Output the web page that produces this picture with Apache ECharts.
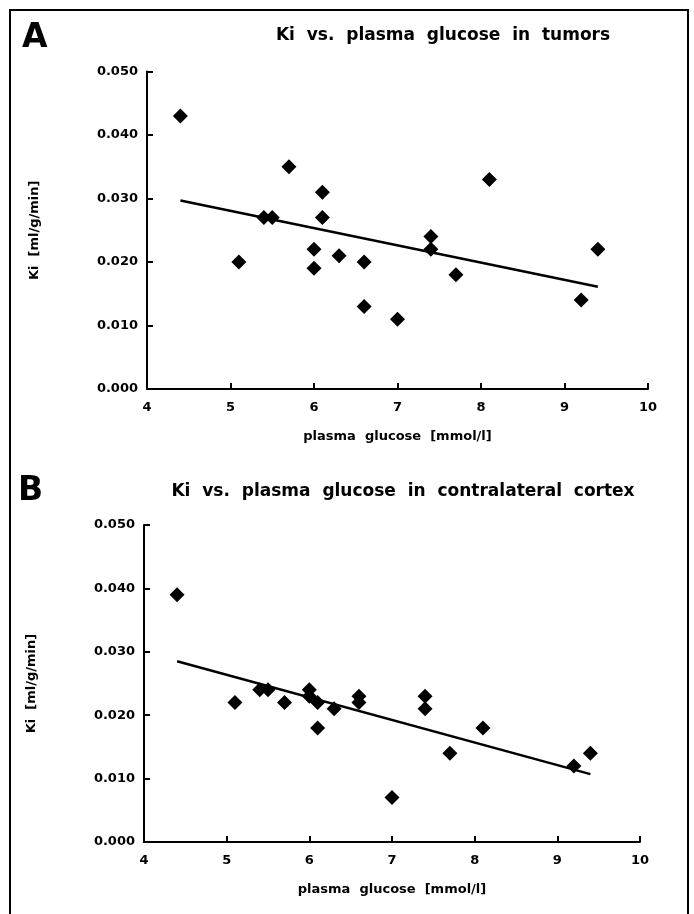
<!DOCTYPE html>
<html>
<head>
<meta charset="utf-8">
<script src="https://cdn.jsdelivr.net/npm/echarts@6/dist/echarts.min.js"></script>
<style>
  html, body { margin: 0; padding: 0; background: #fff; }
  #chart { width: 694px; height: 914px; }
</style>
</head>
<body>
<div id="chart"></div>
<script>
// panel A: tumors
const tumorGlucose = [4.4, 5.1, 5.4, 5.5, 5.7, 6.0, 6.0, 6.1, 6.1, 6.3, 6.6, 6.6, 7.0, 7.4, 7.4, 7.7, 8.1, 9.2, 9.4]
const tumorKi = [0.043, 0.020, 0.027, 0.027, 0.035, 0.022, 0.019, 0.031, 0.027, 0.021, 0.020, 0.013, 0.011, 0.024, 0.022, 0.018, 0.033, 0.014, 0.022]
const tumorFitX = [4.4, 9.4]
const tumorFitKi = [0.0297, 0.0161]

// panel B: contralateral cortex
const cortexGlucose = [4.4, 5.1, 5.4, 5.5, 5.7, 6.0, 6.0, 6.1, 6.1, 6.3, 6.6, 6.6, 7.0, 7.4, 7.4, 7.7, 8.1, 9.2, 9.4]
const cortexKi = [0.039, 0.022, 0.024, 0.024, 0.022, 0.024, 0.023, 0.022, 0.018, 0.021, 0.023, 0.022, 0.007, 0.023, 0.021, 0.014, 0.018, 0.012, 0.014]
const cortexFitX = [4.4, 9.4]
const cortexFitKi = [0.0285, 0.0107]

const xTicks = [4, 10, 1]
const yTicks = [0, 0.05, 0.01]

const font = 'DejaVu Sans'
const pairs = (xs, ys) => xs.map((x, i) => [x, ys[i]])

function xAxisFor (gridIndex) {
  return {
    type: 'value',
    gridIndex: gridIndex,
    min: xTicks[0],
    max: xTicks[1],
    interval: xTicks[2],
    name: 'plasma  glucose  [mmol/l]',
    nameLocation: 'middle',
    nameGap: 41,
    nameTextStyle: { fontFamily: font, fontWeight: 'bold', fontSize: 13, color: '#000' },
    axisLine: { lineStyle: { color: '#000', width: 2 } },
    axisTick: { inside: true, length: 6, lineStyle: { color: '#000', width: 2 } },
    axisLabel: { margin: 12, fontFamily: font, fontWeight: 'bold', fontSize: 13, color: '#000' },
    splitLine: { show: false }
  }
}

function yAxisFor (gridIndex) {
  return {
    type: 'value',
    gridIndex: gridIndex,
    min: yTicks[0],
    max: yTicks[1],
    interval: yTicks[2],
    name: 'Ki  [ml/g/min]',
    nameLocation: 'middle',
    nameRotate: 90,
    nameGap: 106,
    nameTextStyle: { fontFamily: font, fontWeight: 'bold', fontSize: 13, color: '#000' },
    axisLine: { lineStyle: { color: '#000', width: 2 } },
    axisTick: { inside: true, length: 6, lineStyle: { color: '#000', width: 2 } },
    axisLabel: {
      margin: 9,
      fontFamily: font,
      fontWeight: 'bold',
      fontSize: 13,
      color: '#000',
      formatter: v => v.toFixed(3)
    },
    splitLine: { show: false }
  }
}

const chart = echarts.init(document.getElementById('chart'), null, { renderer: 'canvas' })
chart.setOption({
  animation: false,
  backgroundColor: '#fff',
  grid: [
    { left: 147, top: 71.5, width: 501, height: 317.5 },
    { left: 144, top: 525, width: 496, height: 317 }
  ],
  xAxis: [xAxisFor(0), xAxisFor(1)],
  yAxis: [yAxisFor(0), yAxisFor(1)],
  graphic: [
    { type: 'rect', shape: { x: 10, y: 10, width: 678, height: 920 }, style: { fill: 'none', stroke: '#000', lineWidth: 2 } },
    { type: 'text', style: { text: 'A', x: 22, y: 38, font: 'bold 33px "DejaVu Sans"', fill: '#000', textVerticalAlign: 'middle' } },
    { type: 'text', style: { text: 'B', x: 18, y: 491, font: 'bold 33px "DejaVu Sans"', fill: '#000', textVerticalAlign: 'middle' } },
    { type: 'text', style: { text: 'Ki  vs.  plasma  glucose  in  tumors', x: 443, y: 36, font: 'bold 17px "DejaVu Sans"', fill: '#000', textAlign: 'center', textVerticalAlign: 'middle' } },
    { type: 'text', style: { text: 'Ki  vs.  plasma  glucose  in  contralateral  cortex', x: 403, y: 492, font: 'bold 17px "DejaVu Sans"', fill: '#000', textAlign: 'center', textVerticalAlign: 'middle' } }
  ],
  series: [
    {
      type: 'scatter', xAxisIndex: 0, yAxisIndex: 0,
      symbol: 'diamond', symbolSize: 15,
      itemStyle: { color: '#000', opacity: 1 },
      data: pairs(tumorGlucose, tumorKi)
    },
    {
      type: 'line', xAxisIndex: 0, yAxisIndex: 0,
      showSymbol: false, symbol: 'none',
      lineStyle: { color: '#000', width: 2.5 },
      data: pairs(tumorFitX, tumorFitKi)
    },
    {
      type: 'scatter', xAxisIndex: 1, yAxisIndex: 1,
      symbol: 'diamond', symbolSize: 15,
      itemStyle: { color: '#000', opacity: 1 },
      data: pairs(cortexGlucose, cortexKi)
    },
    {
      type: 'line', xAxisIndex: 1, yAxisIndex: 1,
      showSymbol: false, symbol: 'none',
      lineStyle: { color: '#000', width: 2.5 },
      data: pairs(cortexFitX, cortexFitKi)
    }
  ]
})
</script>
</body>
</html>
